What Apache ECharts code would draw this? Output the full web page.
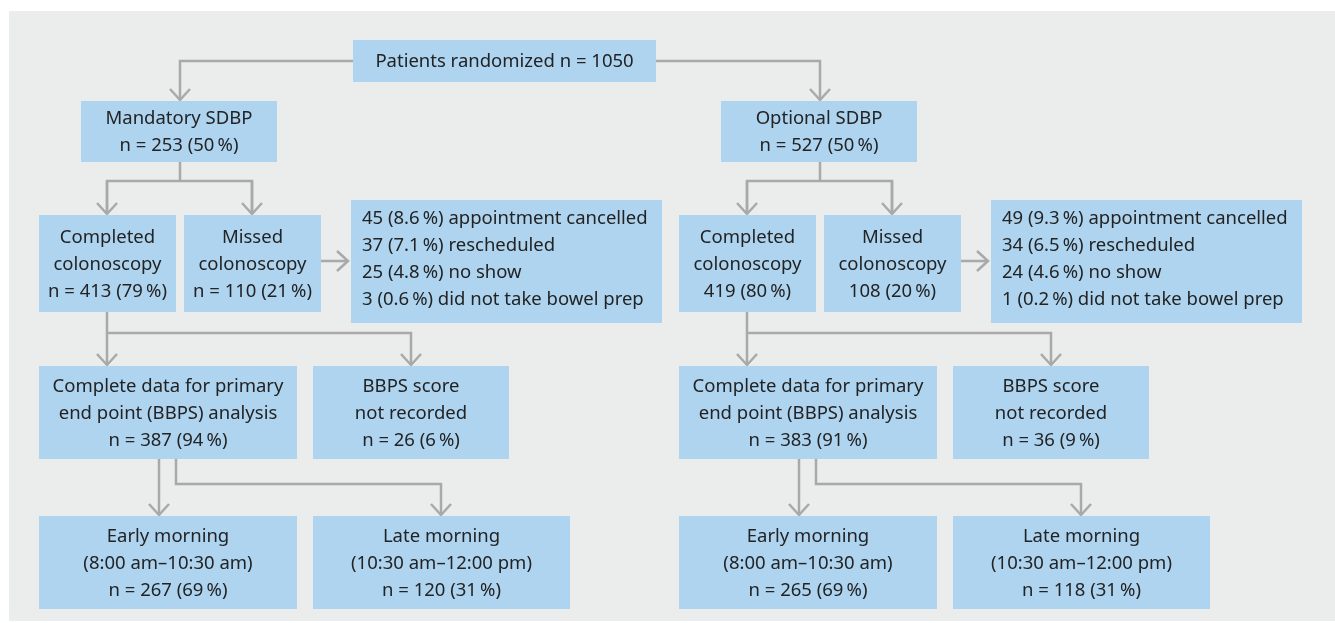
<!DOCTYPE html>
<html>
<head>
<meta charset="utf-8">
<script src="https://cdn.jsdelivr.net/npm/echarts@6/dist/echarts.min.js"></script>
<style>
html, body { margin: 0; padding: 0; background: #fff; }
#main { width: 1335px; height: 623px; }
</style>
</head>
<body>
<div id="main"></div>
<script>
// --- data ---
var randomized = 1050;
var arms = ['Mandatory SDBP', 'Optional SDBP'];
var armN = [253, 527];
var armPct = [50, 50];
var completedN = [413, 419];
var completedPct = [79, 80];
var missedN = [110, 108];
var missedPct = [21, 20];
var reasons = ['appointment cancelled', 'rescheduled', 'no show', 'did not take bowel prep'];
var reasonN = [[45, 37, 25, 3], [49, 34, 24, 1]];
var reasonPct = [[8.6, 7.1, 4.8, 0.6], [9.3, 6.5, 4.6, 0.2]];
var analysedN = [387, 383];
var analysedPct = [94, 91];
var notRecN = [26, 36];
var notRecPct = [6, 9];
var earlyN = [267, 265];
var earlyPct = [69, 69];
var lateN = [120, 118];
var latePct = [31, 31];
// right arm shows no "n =" on the colonoscopy boxes
var nPrefix = ['n = ', ''];

var BOX = '#aed4f0';
var LINE = '#a9a9a9';
var TXT = '#232323';
var FONT = '18.5px "Noto Sans", sans-serif';

function pct(v) { return '(' + v + '\u2009%)'; }

// layout of one arm (left arm), right arm is shifted by OFF
var OFF = 640;
var boxes = [];
var paths = [];
boxes.push({ r: [353, 40, 656, 82], text: 'Patients randomized n = ' + randomized });
paths.push({ pts: [[353, 61], [180, 61], [180, 100]], arrow: 'down' });
paths.push({ pts: [[656, 61], [820, 61], [820, 100]], arrow: 'down' });

for (var a = 0; a < 2; a++) {
    var o = a * OFF;
    var rl = [];
    for (var k = 0; k < reasons.length; k++) {
        rl.push(reasonN[a][k] + ' ' + pct(reasonPct[a][k]) + ' ' + reasons[k]);
    }
    boxes.push({ r: [81 + o, 101, 277 + o, 162], text: arms[a] + '\nn = ' + armN[a] + ' ' + pct(armPct[a]) });
    boxes.push({ r: [39 + o, 215, 176 + o, 312], text: 'Completed\ncolonoscopy\n' + nPrefix[a] + completedN[a] + ' ' + pct(completedPct[a]) });
    boxes.push({ r: [184 + o, 215, 321 + o, 312], text: 'Missed\ncolonoscopy\n' + nPrefix[a] + missedN[a] + ' ' + pct(missedPct[a]) });
    boxes.push({ r: [351 + o, 200, 662 + o, 323], text: rl.join('\n'), left: true });
    boxes.push({ r: [39 + o, 366, 297 + o, 459], text: 'Complete data for primary\nend point (BBPS) analysis\nn = ' + analysedN[a] + ' ' + pct(analysedPct[a]) });
    boxes.push({ r: [313 + o, 366, 509 + o, 459], text: 'BBPS score\nnot recorded\nn = ' + notRecN[a] + ' ' + pct(notRecPct[a]) });
    boxes.push({ r: [39 + o, 516, 297 + o, 609], text: 'Early morning\n(8:00 am\u201310:30 am)\nn = ' + earlyN[a] + ' ' + pct(earlyPct[a]) });
    boxes.push({ r: [313 + o, 516, 570 + o, 609], text: 'Late morning\n(10:30 am\u201312:00 pm)\nn = ' + lateN[a] + ' ' + pct(latePct[a]) });

    paths.push({ pts: [[180 + o, 162], [180 + o, 181]] });
    paths.push({ pts: [[107 + o, 214], [107 + o, 181], [252 + o, 181], [252 + o, 214]] });
    paths.push({ pts: [[107 + o, 181], [107 + o, 214]], arrow: 'down' });
    paths.push({ pts: [[252 + o, 181], [252 + o, 214]], arrow: 'down' });
    paths.push({ pts: [[321 + o, 261], [348 + o, 261]], arrow: 'right' });
    paths.push({ pts: [[107 + o, 312], [107 + o, 333], [411 + o, 333], [411 + o, 365]], arrow: 'down' });
    paths.push({ pts: [[107 + o, 333], [107 + o, 365]], arrow: 'down' });
    paths.push({ pts: [[159 + o, 459], [159 + o, 515]], arrow: 'down' });
    paths.push({ pts: [[176 + o, 459], [176 + o, 484], [441 + o, 484], [441 + o, 515]], arrow: 'down' });
}

var chart = echarts.init(document.getElementById('main'));

var option = {
    backgroundColor: '#ffffff',
    animation: false,
    grid: { left: 0, right: 0, top: 0, bottom: 0 },
    xAxis: { type: 'value', min: 0, max: 1335, show: false },
    yAxis: { type: 'value', min: 0, max: 623, inverse: true, show: false },
    series: [{
        // gray panel
        type: 'custom',
        silent: true,
        z: 1,
        data: [[9, 11, 1335, 621]],
        renderItem: function (params, api) {
            var p0 = api.coord([api.value(0), api.value(1)]);
            var p1 = api.coord([api.value(2), api.value(3)]);
            return { type: 'rect', shape: { x: p0[0], y: p0[1], width: p1[0] - p0[0], height: p1[1] - p0[1] }, style: { fill: '#ebecec' } };
        }
    }, {
        // connectors
        type: 'custom',
        silent: true,
        z: 2,
        data: paths.map(function (p, i) { return [i]; }),
        renderItem: function (params, api) {
            var p = paths[params.dataIndex];
            var pts = p.pts.map(function (q) { return api.coord(q); });
            var kids = [{ type: 'polyline', shape: { points: pts }, style: { stroke: LINE, lineWidth: 2.5, fill: null } }];
            if (p.arrow) {
                var e = pts[pts.length - 1];
                var h = p.arrow === 'down'
                    ? [[e[0] - 10, e[1] - 11], e, [e[0] + 10, e[1] - 11]]
                    : [[e[0] - 11, e[1] - 10], e, [e[0] - 11, e[1] + 10]];
                kids.push({ type: 'polyline', shape: { points: h }, style: { stroke: LINE, lineWidth: 2.5, fill: null } });
            }
            return { type: 'group', children: kids };
        }
    }, {
        // boxes with text
        type: 'custom',
        silent: true,
        z: 3,
        data: boxes.map(function (b) { return b.r; }),
        renderItem: function (params, api) {
            var b = boxes[params.dataIndex];
            var p0 = api.coord([api.value(0), api.value(1)]);
            var p1 = api.coord([api.value(2), api.value(3)]);
            var txt = b.left
                ? { text: b.text, x: p0[0] + 11, y: p0[1] + 5, align: 'left', verticalAlign: 'top' }
                : { text: b.text, x: (p0[0] + p1[0]) / 2, y: (p0[1] + p1[1]) / 2 + 1, align: 'center', verticalAlign: 'middle' };
            txt.font = FONT;
            txt.fill = TXT;
            txt.lineHeight = 27;
            return {
                type: 'group',
                children: [
                    { type: 'rect', shape: { x: p0[0], y: p0[1], width: p1[0] - p0[0], height: p1[1] - p0[1] }, style: { fill: BOX } },
                    { type: 'text', style: txt }
                ]
            };
        }
    }]
};
chart.setOption(option);
</script>
</body>
</html>
